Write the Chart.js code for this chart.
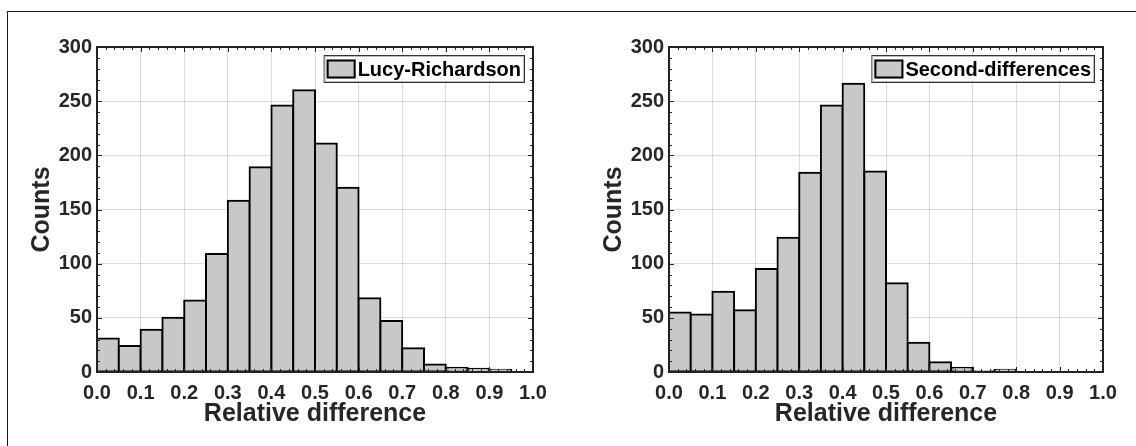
<!DOCTYPE html>
<html>
<head>
<meta charset="utf-8">
<script src="https://cdn.jsdelivr.net/npm/chart.js@4.4.0/dist/chart.umd.min.js"></script>
<style>
  html, body { margin: 0; padding: 0; background: #fff; }
  body { width: 1136px; height: 446px; position: relative; overflow: hidden; }
  .frame { position: absolute; left: 7px; top: 11px; right: 0; bottom: 0;
           border-top: 1px solid #1a1a1a; border-left: 1px solid #1a1a1a; }
  .panel { position: absolute; top: 0; width: 568px; height: 446px; }
</style>
</head>
<body>
<div class="frame"></div>
<div class="panel" style="left:0"><canvas id="lucy" width="568" height="446"></canvas></div>
<div class="panel" style="left:568px"><canvas id="second" width="568" height="446"></canvas></div>
<script>
// histogram bins (width 0.05), centres of each bin
const binCenters = [0.025, 0.075, 0.125, 0.175, 0.225, 0.275, 0.325, 0.375, 0.425, 0.475,
                    0.525, 0.575, 0.625, 0.675, 0.725, 0.775, 0.825, 0.875, 0.925, 0.975];
const lucyCounts   = [31, 24, 39, 50, 66, 109, 158, 189, 246, 260,
                      211, 170, 68, 47, 22, 7, 4, 3, 2, 0];
const secondCounts = [55, 53, 74, 57, 95, 124, 184, 246, 266, 185,
                      82, 27, 9, 4, 1, 2, 0, 0, 0, 0];
const xTickValues = [0, 0.1, 0.2, 0.3, 0.4, 0.5, 0.6, 0.7, 0.8, 0.9, 1.0];
const yTickValues = [0, 50, 100, 150, 200, 250, 300];

const FONT = '"Liberation Sans", Arial, sans-serif';
const BAR_FILL = '#c8c8c8';
const TEXT = '#262626';

// box around the axes + inward ticks on all four sides + legend inside top right
const boxPlugin = {
  id: 'boxPlugin',
  afterDatasetsDraw(chart) {
    const { ctx, chartArea: a, scales: { x, y } } = chart;
    ctx.save();
    ctx.strokeStyle = '#222';
    ctx.lineWidth = 1;
    ctx.beginPath();
    // x minor every 0.02, major every 0.1
    for (let i = 0; i <= 50; i++) {
      const px = Math.round(x.getPixelForValue(i / 50)) + 0.5;
      const len = i % 5 === 0 ? 5 : 3;
      ctx.moveTo(px, a.bottom); ctx.lineTo(px, a.bottom - len);
      ctx.moveTo(px, a.top); ctx.lineTo(px, a.top + len);
    }
    // y minor every 10, major every 50
    for (let v = 0; v <= 300; v += 10) {
      const py = Math.round(y.getPixelForValue(v)) + 0.5;
      const len = v % 50 === 0 ? 5 : 3;
      ctx.moveTo(a.left, py); ctx.lineTo(a.left + len, py);
      ctx.moveTo(a.right, py); ctx.lineTo(a.right - len, py);
    }
    ctx.stroke();
    ctx.lineWidth = 2;
    ctx.strokeRect(a.left, a.top, a.right - a.left, a.bottom - a.top);
    ctx.restore();
  },
  afterDraw(chart) {
    const { ctx, chartArea: a } = chart;
    const ds = chart.data.datasets[0];
    ctx.save();
    ctx.font = 'bold 20px ' + FONT;
    const tw = ctx.measureText(ds.label).width;
    const sw = 29, sh = 19, h = 28;
    const w = 3 + sw + 2 + tw + 4;
    const right = a.right - 8, top = a.top + 8;
    const left = right - w;
    ctx.fillStyle = '#fff';
    ctx.fillRect(left, top, w, h);
    ctx.strokeStyle = '#333';
    ctx.lineWidth = 1;
    ctx.strokeRect(left + 0.5, top + 0.5, w - 1, h - 1);
    ctx.strokeStyle = '#bbb';
    ctx.strokeRect(left + 1.5, top + 1.5, w - 3, h - 3);
    ctx.fillStyle = BAR_FILL;
    const sy = top + (h - sh) / 2;
    ctx.fillRect(left + 3, sy, sw, sh);
    ctx.strokeStyle = '#000';
    ctx.lineWidth = 2;
    ctx.strokeRect(left + 4, sy + 1, sw - 2, sh - 2);
    ctx.fillStyle = '#000';
    ctx.textBaseline = 'middle';
    ctx.fillText(ds.label, left + 3 + sw + 2, top + h / 2 + 1);
    ctx.restore();
  }
};

function makeChart(id, label, counts, yWidth, rightPad) {
  return new Chart(document.getElementById(id), {
    type: 'bar',
    data: {
      datasets: [{
        label: label,
        data: binCenters.map((c, i) => ({ x: c, y: counts[i] })),
        backgroundColor: BAR_FILL,
        borderColor: '#000',
        borderWidth: 2,
        borderSkipped: false,
        inflateAmount: 1,
        barPercentage: 1,
        categoryPercentage: 1
      }]
    },
    options: {
      responsive: false,
      animation: false,
      layout: { padding: { left: 0, top: 47, right: rightPad, bottom: 0 } },
      plugins: { legend: { display: false }, tooltip: { enabled: false } },
      scales: {
        x: {
          type: 'linear',
          min: 0, max: 1,
          offset: false,
          afterBuildTicks: s => { s.ticks = xTickValues.map(v => ({ value: v })); },
          afterFit: s => { s.height = 74; },
          ticks: {
            padding: 9,
            color: TEXT,
            font: { family: FONT, size: 20, weight: 'bold' },
            callback: v => v.toFixed(1),
            maxRotation: 0
          },
          grid: { color: 'rgba(0,0,0,0.14)', lineWidth: 1, drawTicks: false, offset: false },
          border: { display: false },
          title: {
            display: true,
            text: 'Relative difference',
            color: TEXT,
            font: { family: FONT, size: 25, weight: 'bold' },
            padding: { top: 0, bottom: 17 }
          }
        },
        y: {
          min: 0, max: 300,
          afterBuildTicks: s => { s.ticks = yTickValues.map(v => ({ value: v })); },
          afterFit: s => { s.width = yWidth; },
          ticks: {
            padding: 5,
            color: TEXT,
            font: { family: FONT, size: 20, weight: 'bold' }
          },
          grid: { color: 'rgba(0,0,0,0.14)', lineWidth: 1, drawTicks: false },
          border: { display: false },
          title: {
            display: true,
            text: 'Counts',
            color: TEXT,
            font: { family: FONT, size: 25, weight: 'bold' },
            padding: { top: yWidth - 70, bottom: 0 }
          }
        }
      }
    },
    plugins: [boxPlugin]
  });
}

makeChart('lucy', 'Lucy-Richardson', lucyCounts, 97, 35);
makeChart('second', 'Second-differences', secondCounts, 101, 33);
</script>
</body>
</html>
